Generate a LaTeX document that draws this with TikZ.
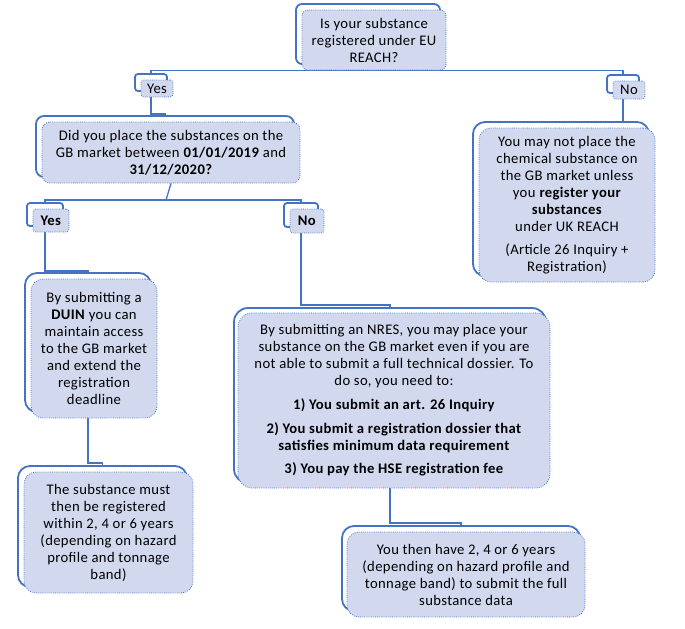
\documentclass[tikz,border=0pt]{standalone}
\usepackage{fontspec}
\setmainfont{Carlito}[LetterSpace=2.5]
\pgfdeclarelayer{background}
\pgfsetlayers{background,main}
\definecolor{lineblue}{HTML}{4472C4}
\definecolor{boxfill}{HTML}{D2D9EF}
\newdimen\pxu \pxu=0.75pt
\tikzset{
  obox/.style={draw=lineblue, line width=1.8\pxu, fill=white, inner sep=0pt},
  ibox/.style={draw=lineblue, densely dotted, line width=0.8\pxu, fill=boxfill, inner sep=0pt, align=center, font=\fontsize{11}{12.75}\selectfont},
  conn/.style={draw=lineblue, line width=1.3\pxu}
}
\begin{document}
\begin{tikzpicture}[x=0.75pt,y=-0.75pt]
\useasboundingbox (0,0) rectangle (685,628);
% top question
\node[obox, rounded corners=6\pxu, minimum width=144\pxu, minimum height=60\pxu] (to) at (368,34) {};
\node[ibox, rounded corners=6\pxu, minimum width=144\pxu, minimum height=60\pxu] (t) at (374,40) {Is your substance\\registered under EU\\REACH?};
% Yes 1
\node[obox, rounded corners=3\pxu, minimum width=32\pxu, minimum height=17\pxu] (y1o) at (151,82.5) {};
\node[ibox, rounded corners=3\pxu, minimum width=32\pxu, minimum height=17\pxu] (y1) at (157,88.5) {Yes};
% No 1
\node[obox, rounded corners=3\pxu, minimum width=32\pxu, minimum height=18\pxu] (n1o) at (623,84) {};
\node[ibox, rounded corners=3\pxu, minimum width=32\pxu, minimum height=18\pxu] (n1) at (629,90) {No};
% box 2
\node[obox, rounded corners=8\pxu, minimum width=258\pxu, minimum height=61\pxu] (b2o) at (165,146.5) {};
\node[ibox, rounded corners=8\pxu, minimum width=258\pxu, minimum height=61\pxu] (b2) at (171,152.5) {Did you place the substances on the\\GB market between \textbf{01/01/2019} and\\\textbf{31/12/2020?}};
% right box
\node[obox, rounded corners=12\pxu, minimum width=176\pxu, minimum height=154\pxu] (ro) at (561,199) {};
\node[ibox, rounded corners=12\pxu, minimum width=176\pxu, minimum height=154\pxu] (r) at (567,205) {You may not place the\\chemical substance on\\the GB market unless\\you \textbf{register your}\\\textbf{substances}\\under UK REACH\\[5pt](Article 26 Inquiry +\\Registration)};
% Yes 2
\node[obox, rounded corners=3\pxu, minimum width=36\pxu, minimum height=23\pxu] (y2o) at (45,214.5) {};
\node[ibox, rounded corners=3\pxu, minimum width=36\pxu, minimum height=23\pxu] (y2) at (51,220.5) {\textbf{Yes}};
% No 2
\node[obox, rounded corners=3\pxu, minimum width=34\pxu, minimum height=24\pxu] (n2o) at (301,215) {};
\node[ibox, rounded corners=3\pxu, minimum width=34\pxu, minimum height=24\pxu] (n2) at (307,221) {\textbf{No}};
% DUIN box
\node[obox, rounded corners=12\pxu, minimum width=126\pxu, minimum height=139\pxu] (do) at (88,342.5) {};
\node[ibox, rounded corners=12\pxu, minimum width=126\pxu, minimum height=139\pxu] (d) at (94,348.5) {By submitting a\\\textbf{DUIN} you can\\maintain access\\to the GB market\\and extend the\\registration\\deadline};
% NRES box
\node[obox, rounded corners=14\pxu, minimum width=312\pxu, minimum height=175\pxu] (nro) at (390,395.5) {};
\node[ibox, rounded corners=14\pxu, minimum width=312\pxu, minimum height=175\pxu] (nr) at (394,400.5) {By submitting an NRES, you may place your\\substance on the GB market even if you are\\not able to submit a full technical dossier. To\\do so, you need to:\\[5pt]\textbf{1) You submit an art. 26 Inquiry}\\[5pt]\textbf{2) You submit a registration dossier that}\\\textbf{satisfies minimum data requirement}\\[5pt]\textbf{3) You pay the HSE registration fee}};
% bottom-left box
\node[obox, rounded corners=12\pxu, minimum width=169\pxu, minimum height=121\pxu] (blo) at (102.5,526.5) {};
\node[ibox, rounded corners=12\pxu, minimum width=169\pxu, minimum height=121\pxu] (bl) at (108.5,532.5) {The substance must\\then be registered\\within 2, 4 or 6 years\\(depending on hazard\\profile and tonnage\\band)};
% bottom-right box
\node[obox, rounded corners=12\pxu, minimum width=238\pxu, minimum height=85\pxu] (bro) at (461,568.5) {};
\node[ibox, rounded corners=12\pxu, minimum width=238\pxu, minimum height=85\pxu] (br) at (466,574.5) {You then have 2, 4 or 6 years\\(depending on hazard profile and\\tonnage band) to submit the full\\substance data};
% connectors
\coordinate (j2) at (166,200);
\begin{pgfonlayer}{background}
\draw[conn] (y1o.north) |- (t.south) -| (n1o.north);
\draw[conn] (y1o.south) -- ++(0,22) -| (b2o.north);
\draw[conn] (n1o.south) -- ++(0,28) -| (ro.north);
\draw[conn] (b2.south) -- (j2);
\draw[conn] (y2o.north) |- (j2) -| (n2o.north);
\draw[conn] (y2o.south) -- ++(0,44) -| (do.north);
\draw[conn] (n2o.south) -- ++(0,77) -| (nro.north);
\draw[conn] (do.south) -- ++(0,50) -| (blo.north);
\draw[conn] (nro.south) -- ++(0,39) -| (bro.north);
\end{pgfonlayer}
\end{tikzpicture}
\end{document}
